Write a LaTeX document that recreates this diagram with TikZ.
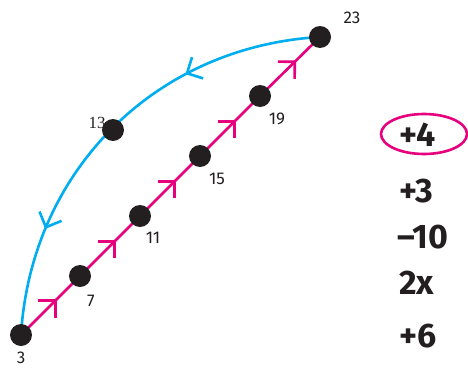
\documentclass[tikz,border=0pt]{standalone}
\usepackage{fontspec}
\setmainfont{Fira Sans}
\newfontfamily\serifnum{Liberation Serif}
\usetikzlibrary{decorations.markings}
\definecolor{pinkc}{RGB}{230,0,126}
\definecolor{bluec}{RGB}{0,174,239}
\definecolor{dotc}{RGB}{35,31,32}
\newcommand{\chevdraw}{\draw[line width=2.6pt] (-12pt,12pt) -- (0pt,0pt) -- (-12pt,-12pt);}
\tikzset{
  pinkline/.style={draw=pinkc, line width=2.6pt,
    decoration={markings, mark=at position 0.58 with {\chevdraw}}, postaction={decorate}},
  blueline/.style={draw=bluec, line width=2.6pt,
    decoration={markings, mark=at position 0.30 with {\chevdraw}, mark=at position 0.76 with {\chevdraw}}, postaction={decorate}},
  dot/.style={circle, fill=dotc, minimum size=22pt, inner sep=0pt},
  lab/.style={font=\fontsize{17}{17}\selectfont, text=dotc, inner sep=0pt},
  op/.style={font=\bfseries\fontsize{34}{34}\selectfont, text=dotc, inner sep=0pt, anchor=west},
}
\begin{document}
\begin{tikzpicture}[x=1pt,y=1pt]
\useasboundingbox (0,0) rectangle (468,368);
% label behind 13
\node[inner sep=0pt, text=dotc, font=\serifnum\fontsize{17}{17}\selectfont] (l13) at (97,245) {13};
% coordinates for dots
\coordinate (p3) at (21,33);
\coordinate (p7) at (80,92);
\coordinate (p11) at (140,152);
\coordinate (p15) at (200,212);
\coordinate (p19) at (260,272);
\coordinate (p23) at (320,331);
\coordinate (p13) at (113,238);
% blue arc
\draw[blueline] (p23) to[bend right=41.6] (p3);
% pink line
\draw[pinkline] (p3) -- (p7);
\draw[pinkline] (p7) -- (p11);
\draw[pinkline] (p11) -- (p15);
\draw[pinkline] (p15) -- (p19);
\draw[pinkline] (p19) -- (p23);
% dots
\node[dot] (n3) at (p3) {};
\node[dot] (n7) at (p7) {};
\node[dot] (n11) at (p11) {};
\node[dot] (n15) at (p15) {};
\node[dot] (n19) at (p19) {};
\node[dot] (n23) at (p23) {};
\node[dot] (n13) at (p13) {};
% labels
\node[lab] (l3) at (21,10) {3};
\node[lab] (l7) at (91,67) {7};
\node[lab] (l11) at (153,130) {11};
\node[lab] (l15) at (217,189) {15};
\node[lab] (l19) at (277,249) {19};
\node[lab] (l23) at (352,350) {23};
% operations
\node[op] (o1) at (399,233) {+4};
\node[op] (o2) at (399,177) {+3};
\node[op] (o3) at (397,131) {–10};
\node[op] (o4) at (399,85) {2x};
\node[op] (o5) at (399,32) {+6};
\draw[pinkc, line width=2.6pt] (424,234) ellipse [x radius=43, y radius=20];
\end{tikzpicture}
\end{document}
